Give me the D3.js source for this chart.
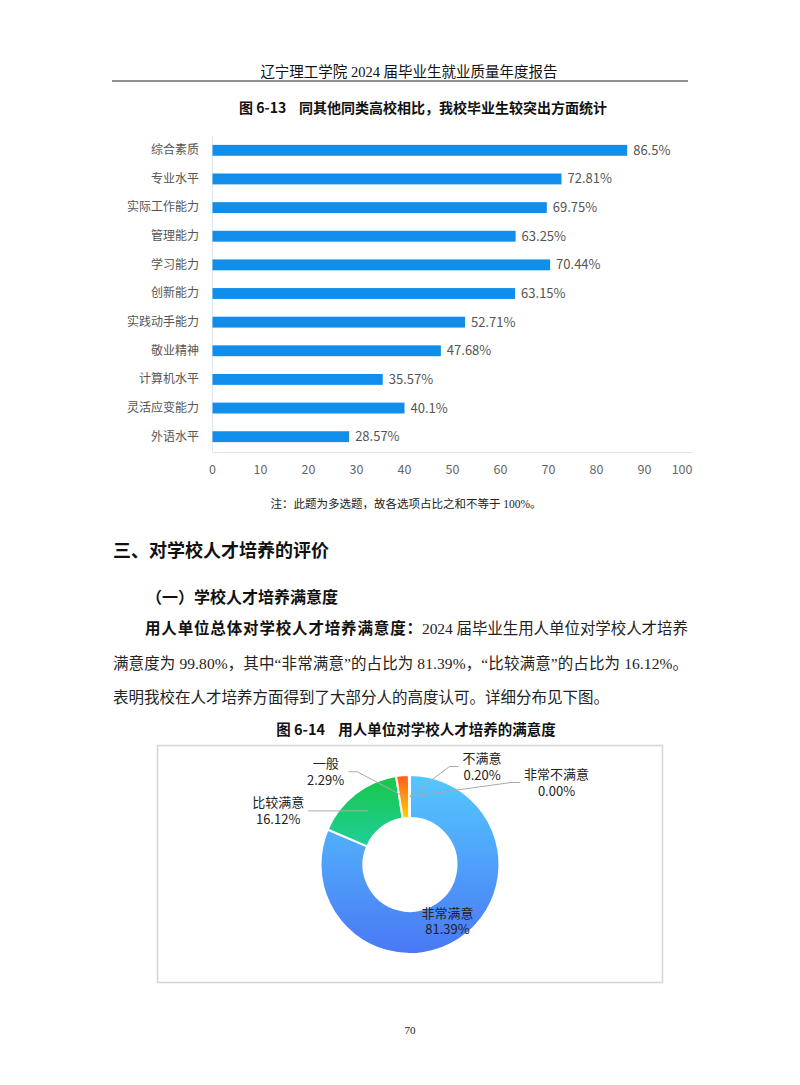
<!DOCTYPE html>
<html>
<head>
<meta charset="utf-8">
<script src="https://cdn.jsdelivr.net/npm/d3@7"></script>
<style>
  body { margin: 0; background: #fff; }
  svg text { font-family: "Noto Sans CJK SC", "Noto Sans", sans-serif; }
  .serif { font-family: "Liberation Serif", "Noto Sans CJK SC", serif !important; }
</style>
</head>
<body>
<div id="page"></div>
<script>
// bar chart data (fig 6-13)
const categories = ["综合素质", "专业水平", "实际工作能力", "管理能力", "学习能力", "创新能力",
  "实践动手能力", "敬业精神", "计算机水平", "灵活应变能力", "外语水平"];
const values = [86.5, 72.81, 69.75, 63.25, 70.44, 63.15, 52.71, 47.68, 35.57, 40.1, 28.57];
const xTicks = [0, 10, 20, 30, 40, 50, 60, 70, 80, 90, 100];

// donut data (fig 6-14)
const satLabels = ["非常满意", "比较满意", "一般", "不满意", "非常不满意"];
const satValues = [81.39, 16.12, 2.29, 0.20, 0.00];

const W = 800, H = 1085;
const svg = d3.select("#page").append("svg").attr("width", W).attr("height", H);

// page header
svg.append("text").attr("class", "serif")
  .attr("x", 409).attr("y", 77).attr("text-anchor", "middle")
  .attr("font-size", 14.5).attr("fill", "#111")
  .text("辽宁理工学院 2024 届毕业生就业质量年度报告");
svg.append("line").attr("x1", 112).attr("x2", 688).attr("y1", 81).attr("y2", 81)
  .attr("stroke", "#222").attr("stroke-width", 1);

svg.append("text")
  .attr("x", 423).attr("y", 113).attr("text-anchor", "middle")
  .attr("font-size", 14).attr("font-weight", "bold").attr("fill", "#111")
  .attr("xml:space", "preserve")
  .text("图 6-13    同其他同类高校相比，我校毕业生较突出方面统计");

// ---- bar chart ----
const x = d3.scaleLinear().domain([0, 100]).range([212, 692]);
const y = d3.scaleBand().domain(categories).range([136, 451]).paddingInner(0.62).paddingOuter(0.31);

const xAxis = svg.append("g")
  .attr("transform", "translate(0,452)")
  .call(d3.axisBottom(x).tickValues(xTicks).tickSize(0).tickSizeOuter(0).tickPadding(13));
xAxis.select(".domain").attr("stroke", "#e0e6f1");
xAxis.selectAll("text").attr("font-size", 12.5).attr("fill", "#666")
  .attr("font-family", "'Noto Sans', sans-serif");
xAxis.select(".tick:last-of-type text").attr("text-anchor", "end");

const yAxis = svg.append("g")
  .attr("transform", "translate(212,0)")
  .call(d3.axisLeft(y).tickSize(0).tickSizeOuter(0).tickPadding(13));
yAxis.select(".domain").attr("stroke", "#e0e6f1");
yAxis.selectAll("text").attr("font-size", 12).attr("fill", "#555");

svg.selectAll("rect.bar")
  .data(values)
  .join("rect")
  .attr("class", "bar")
  .attr("x", x(0) + 0.5)
  .attr("y", (d, i) => y(categories[i]))
  .attr("width", d => x(d) - x(0) - 0.5)
  .attr("height", y.bandwidth())
  .attr("fill", "#108ee9");

svg.selectAll("text.val")
  .data(values)
  .join("text")
  .attr("class", "val")
  .attr("x", d => x(d) + 6)
  .attr("y", (d, i) => y(categories[i]) + y.bandwidth() / 2 + 4.5)
  .attr("font-size", 13).attr("fill", "#555")
  .text(d => d + "%");

svg.append("text").attr("class", "serif")
  .attr("x", 406).attr("y", 508).attr("text-anchor", "middle")
  .attr("font-size", 11.5).attr("fill", "#222")
  .text("注：此题为多选题，故各选项占比之和不等于 100%。");

// ---- body text ----
svg.append("text")
  .attr("x", 113).attr("y", 557)
  .attr("font-size", 18).attr("font-weight", "bold").attr("fill", "#111")
  .text("三、对学校人才培养的评价");
svg.append("text")
  .attr("x", 146).attr("y", 603)
  .attr("font-size", 16).attr("font-weight", "bold").attr("fill", "#111")
  .text("（一）学校人才培养满意度");

svg.append("text")
  .attr("x", 145).attr("y", 634)
  .attr("font-size", 15.5).attr("font-weight", "bold").attr("fill", "#111")
  .attr("textLength", 277).attr("lengthAdjust", "spacing")
  .text("用人单位总体对学校人才培养满意度：");
svg.append("text").attr("class", "serif")
  .attr("x", 422).attr("y", 634)
  .attr("font-size", 15.5).attr("fill", "#222")
  .attr("textLength", 266).attr("lengthAdjust", "spacing")
  .text("2024 届毕业生用人单位对学校人才培养");
svg.append("text").attr("class", "serif")
  .attr("x", 113).attr("y", 669)
  .attr("font-size", 15.5).attr("fill", "#222")
  .attr("textLength", 575).attr("lengthAdjust", "spacing")
  .text("满意度为 99.80%，其中“非常满意”的占比为 81.39%，“比较满意”的占比为 16.12%。");
svg.append("text").attr("class", "serif")
  .attr("x", 113).attr("y", 703)
  .attr("font-size", 15.5).attr("fill", "#222")
  .text("表明我校在人才培养方面得到了大部分人的高度认可。详细分布见下图。");

svg.append("text")
  .attr("x", 416).attr("y", 735).attr("text-anchor", "middle")
  .attr("font-size", 14.5).attr("font-weight", "bold").attr("fill", "#111")
  .attr("xml:space", "preserve")
  .text("图 6-14    用人单位对学校人才培养的满意度");

// ---- donut chart ----
svg.append("rect")
  .attr("x", 157.5).attr("y", 745.5).attr("width", 505).attr("height", 237)
  .attr("fill", "#fff").attr("stroke", "#d4d4d4").attr("stroke-width", 1.5);

const cx = 410, cy = 864.5, rOuter = 89.5, rInner = 46.5;
const gradColors = [
  ["#54c8ff", "#4a78f5"],
  ["#19c64a", "#1fcf98"],
  ["#ff5a1e", "#ffd200"],
  ["#ffcf3a", "#ffe680"],
  ["#ffe680", "#ffe680"]
];
const defs = svg.append("defs");
gradColors.forEach((c, i) => {
  const g = defs.append("linearGradient").attr("id", "g" + i)
    .attr("x1", 0).attr("y1", 0).attr("x2", 0).attr("y2", 1);
  g.append("stop").attr("offset", "0%").attr("stop-color", c[0]);
  g.append("stop").attr("offset", "100%").attr("stop-color", c[1]);
});

const pie = d3.pie().sort(null).value(d => d)(satValues);
const arc = d3.arc().innerRadius(rInner).outerRadius(rOuter);
const midArc = d3.arc().innerRadius(68).outerRadius(68);

const donut = svg.append("g").attr("transform", `translate(${cx},${cy})`);
donut.selectAll("path")
  .data(pie)
  .join("path")
  .attr("d", arc)
  .attr("fill", (d, i) => `url(#g${i})`)
  .attr("stroke", "#fff").attr("stroke-width", 2).attr("stroke-linejoin", "round");

// label placement: leader end offsets from slice centroid (layout only)
const labelEnds = [null, [-60, 0], [-56, -25], [49, -30], [110, -14]];

function twoLine(g, tx, y1, y2, lines) {
  g.append("text").attr("x", tx).attr("y", y1).attr("text-anchor", "middle")
    .attr("font-size", 13).attr("fill", "#222").text(lines[0]);
  g.append("text").attr("x", tx).attr("y", y2).attr("text-anchor", "middle")
    .attr("font-size", 13).attr("fill", "#222").text(lines[1]);
}

pie.forEach((d, i) => {
  const [mx, my] = midArc.centroid(d);
  const lab = [satLabels[i], satValues[i].toFixed(2) + "%"];
  if (!labelEnds[i]) {
    twoLine(donut, mx, my - 3.5, my + 13, lab);
    return;
  }
  const ex = mx + labelEnds[i][0], ey = my + labelEnds[i][1];
  const side = ex < mx ? -1 : 1;
  const kx = ex - side * 9;
  donut.append("polyline")
    .attr("points", [[mx, my], [kx, ey], [ex, ey]].map(p => p.join(",")).join(" "))
    .attr("fill", "none").attr("stroke", "#aaa").attr("stroke-width", 1);
  // measure label width to sit it beside the leader end
  const probe = donut.append("text").attr("font-size", 13);
  const w = Math.max(...lab.map(s => { probe.text(s); return probe.node().getComputedTextLength(); }));
  probe.remove();
  const tx = ex + side * (4 + w / 2);
  twoLine(donut, tx, ey - 3.5, ey + 13, lab);
});

svg.append("text").attr("class", "serif")
  .attr("x", 410).attr("y", 1034).attr("text-anchor", "middle")
  .attr("font-size", 11).attr("fill", "#222")
  .text("70");
</script>
</body>
</html>
